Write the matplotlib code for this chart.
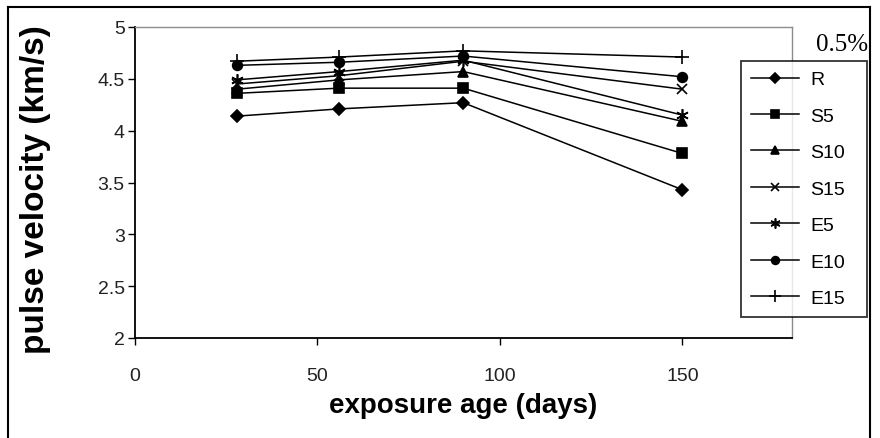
import matplotlib
matplotlib.use("Agg")
import matplotlib.pyplot as plt
from matplotlib.lines import Line2D

# exposure age (days) and pulse velocity (km/s) per mix
days = [28, 56, 90, 150]
R = [4.14, 4.21, 4.27, 3.43]
S5 = [4.36, 4.41, 4.41, 3.78]
S10 = [4.40, 4.49, 4.57, 4.09]
S15 = [4.45, 4.53, 4.67, 4.40]
E5 = [4.49, 4.57, 4.68, 4.15]
E10 = [4.63, 4.66, 4.72, 4.52]
E15 = [4.67, 4.71, 4.77, 4.71]

labels = ["R", "S5", "S10", "S15", "E5", "E10", "E15"]
series = [R, S5, S10, S15, E5, E10, E15]
markers = ["D", "s", "^", "x", (6, 2, 0), "o", "+"]
sizes = [6, 7, 7, 7, 9, 7, 10]

plt.rcParams["font.family"] = ["Liberation Sans", "DejaVu Sans"]

fig = plt.figure(figsize=(8.8, 4.39), dpi=100)
ax = fig.add_axes([134.5 / 880, 1 - 339 / 439, (792 - 134.5) / 880, (339 - 28) / 439])

for name, vals, m, ms in zip(labels, series, markers, sizes):
    ax.plot(days, vals, color="black", lw=1.1, marker=m, markersize=ms,
            markeredgewidth=1.2, label=name)

ax.set_xlim(0, 180)
ax.set_ylim(2, 5)
ax.set_xticks([0, 50, 100, 150])
ax.set_yticks([2, 2.5, 3, 3.5, 4, 4.5, 5])
ax.set_yticklabels(["2", "2.5", "3", "3.5", "4", "4.5", "5"])
ax.tick_params(direction="out", length=5, width=1, labelsize=14,
               color="black", labelcolor="#222222")
ax.tick_params(axis="x", pad=16)
ax.tick_params(axis="y", pad=2)

for s in ["left", "bottom"]:
    ax.spines[s].set_color("black")
    ax.spines[s].set_linewidth(1.3)
for s in ["top", "right"]:
    ax.spines[s].set_color("#8c8c8c")
    ax.spines[s].set_linewidth(1.0)

ax.set_xlabel("exposure age (days)", fontsize=20, fontweight="bold")
ax.set_ylabel("pulse velocity (km/s)", fontsize=24, fontweight="bold")
ax.xaxis.set_label_coords(0.5, -0.175)
ax.yaxis.set_label_coords(-0.127, 0.48)

leg = fig.legend(loc="upper left",
                 bbox_to_anchor=(741 / 880, 1 - 312 / 439, 126 / 880, 250 / 439),
                 mode="expand", fontsize=14, frameon=True, fancybox=False,
                 edgecolor="black", handlelength=2.5, labelspacing=0.97,
                 borderpad=0.5, handletextpad=0.55, borderaxespad=0,
                 markerscale=0.8)
leg.get_frame().set_linewidth(1.3)

fig.text(842 / 880, 1 - 45 / 439, "0.5%", family="Liberation Serif",
         fontsize=18, ha="center", va="center")

# outer chart border
for xs, ys in [([8 / 880, 8 / 880], [0, 1 - 8 / 439]),
               ([8 / 880, 870 / 880], [1 - 8 / 439, 1 - 8 / 439]),
               ([870 / 880, 870 / 880], [1 - 8 / 439, 0])]:
    fig.add_artist(Line2D(xs, ys, color="black", lw=1.5))

fig.savefig("out.png", dpi=100)
